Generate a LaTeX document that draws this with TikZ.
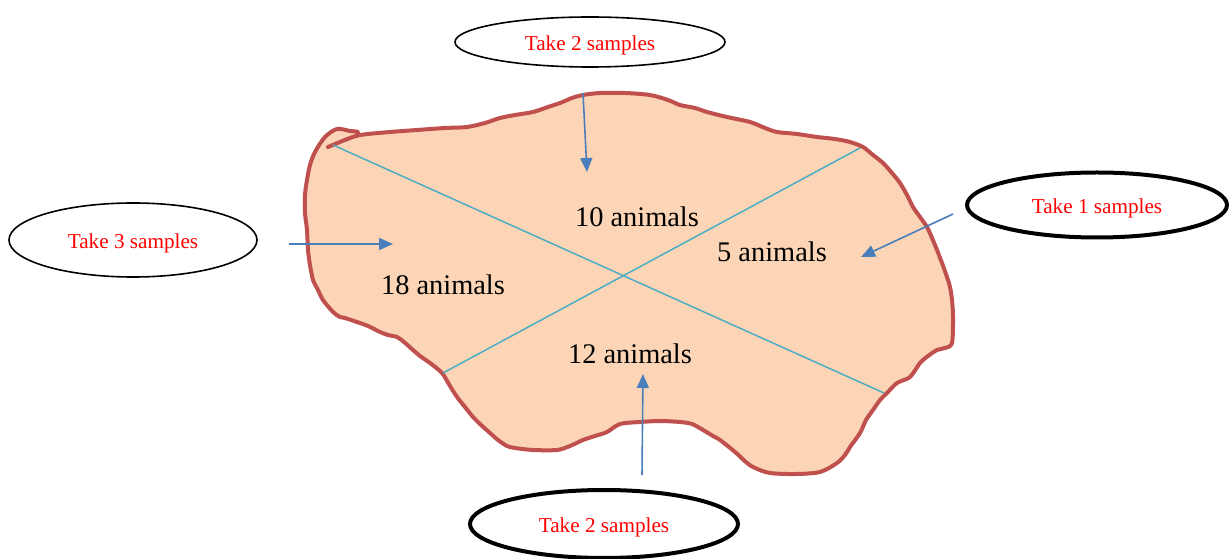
\documentclass[tikz,border=0pt]{standalone}
\usepackage{fontspec}
\setmainfont{Liberation Serif}
\usetikzlibrary{shapes.geometric,arrows.meta}
\definecolor{blobfill}{HTML}{FBD5B5}
\definecolor{blobline}{HTML}{C0504D}
\definecolor{crossline}{HTML}{4BACC6}
\definecolor{arrowblue}{HTML}{4A7EBB}
\definecolor{samplered}{HTML}{FF0000}
\begin{document}
\begin{tikzpicture}[x=0.75pt,y=-0.75pt,
  sample/.style={ellipse,draw=black,inner sep=0pt,text=samplered,text depth=0pt,text height=13pt,font=\fontsize{15.9}{18}\selectfont},
  thinsample/.style={sample,line width=1.2pt},
  thicksample/.style={sample,line width=3pt},
  count/.style={inner sep=0pt,font=\fontsize{21.3}{24}\selectfont,text=black},
  arr/.style={draw=arrowblue,line width=1.2pt,-{Triangle[length=10.5pt,width=9pt]}},
  cross/.style={draw=crossline,line width=1.1pt}]
\useasboundingbox (0,0) rectangle (1229,559);
% blob
\filldraw[fill=blobfill,draw=blobline,line width=3pt,line cap=round,line join=round]
 plot[smooth,tension=0.5] coordinates {(328,147) (345,140) (360,135) (390,132) (417,130) (445,128) (467,127) (485,123) (500,118) (515,115) (533,112) (548,107) (560,103) (572,98) (583,95) (600,93) (625,93) (650,95) (668,100) (680,105) (695,108) (707,112) (727,117) (750,122) (765,128) (777,132) (797,134) (817,137) (835,139) (850,142) (863,147) (873,155) (883,163) (892,173) (900,183) (907,195) (913,207) (920,217) (927,227) (932,238) (937,250) (942,263) (947,277) (950,287) (952,300) (953,317) (952,343) (945,348) (937,350) (928,356) (920,363) (910,377) (897,383) (887,393) (880,400) (873,410) (866,420) (860,433) (850,447) (845,455) (837,463) (820,472) (795,474) (770,473) (755,468) (747,463) (735,452) (720,440) (713,436) (703,430) (692,424) (680,422) (660,421) (640,422) (620,424) (607,432) (595,436) (583,440) (570,446) (557,450) (533,450) (515,448) (507,446) (498,440) (490,433) (480,424) (473,417) (465,407) (457,397) (450,386) (442,373) (430,363) (420,356) (413,350) (404,342) (397,337) (388,335) (380,332) (368,326) (357,322) (345,318) (340,317) (333,312) (323,300) (318,290) (313,280) (310,265) (308,250) (307,230) (305,213) (305,195) (307,180) (310,165) (315,152) (325,137) (337,129) (350,131) (358,132) (357,136)};
% cross lines
\coordinate (c1a) at (333,145);
\coordinate (c1b) at (884,393);
\coordinate (c2a) at (860,148);
\coordinate (c2b) at (443,373);
\draw[cross] (c1a) -- (c1b);
\draw[cross] (c2a) -- (c2b);
% counts
\node[count] (n10) at (637,217) {10 animals};
\node[count] (n5) at (772,252) {5 animals};
\node[count] (n18) at (443,285) {18 animals};
\node[count] (n12) at (630,354) {12 animals};
% sample ellipses
\node[thinsample,minimum width=202.5pt,minimum height=37.5pt] (stop) at (590,42) {Take 2 samples};
\node[thinsample,minimum width=186pt,minimum height=55.5pt] (sleft) at (133,240) {Take 3 samples};
\node[thicksample,minimum width=195pt,minimum height=48.75pt] (sright) at (1097,205) {Take 1 samples};
\node[thicksample,minimum width=201pt,minimum height=51pt] (sbot) at (604,524) {Take 2 samples};
% arrows
\coordinate (aTs) at (583,93);
\coordinate (aTe) at (587,172);
\coordinate (aLs) at (289,244);
\coordinate (aLe) at (393,244);
\coordinate (aRs) at (953,214);
\coordinate (aRe) at (861,257);
\coordinate (aBs) at (642,475);
\coordinate (aBe) at (643,374);
\draw[arr] (aTs) -- (aTe);
\draw[arr] (aLs) -- (aLe);
\draw[arr] (aRs) -- (aRe);
\draw[arr] (aBs) -- (aBe);
\end{tikzpicture}
\end{document}
